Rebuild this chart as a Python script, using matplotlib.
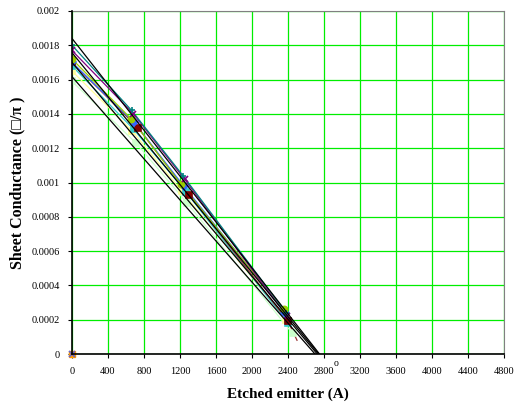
import matplotlib
matplotlib.use("Agg")
import matplotlib.pyplot as plt
import numpy as np

# ---- data ----
x_teal = [0, 663, 1233, 2380]
y_teal = [0.00180, 0.00142, 0.00104, 0.00024]
x_purple = [0, 683, 1250, 2390]
y_purple = [0.00177, 0.00140, 0.00102, 0.00022]
x_olive = [0, 660, 1210, 2350]
y_olive = [0.00172, 0.00137, 0.00099, 0.00026]
x_blue = [0, 690, 1240, 2370]
y_blue = [0.00170, 0.00135, 0.00098, 0.00024]
x_maroon = [0, 733, 1304, 2400, 2500]
y_maroon = [0.00170, 0.00132, 0.00093, 0.00019, 0.00008]
x_cyan = [0, 685, 1267, 2400]
y_cyan = [0.00168, 0.00131, 0.000945, 0.00018]
x_lyellow = [0, 670, 1220, 2380]
y_lyellow = [0.00165, 0.00130, 0.00095, 0.00020]
x_lgreen = [0, 711, 1280, 2450]
y_lgreen = [0.00159, 0.00123, 0.00088, 0.00012]
x_zero = [0]
y_zero = [0]

# linear trend lines: intercept at x=0 and x-intercept
trend_y0 = [0.00184, 0.001757, 0.00170, 0.001617]
trend_x0 = [2750, 2740, 2725, 2700]

x_ticks = [0, 400, 800, 1200, 1600, 2000, 2400, 2800, 3200, 3600, 4000, 4400, 4800]
y_ticks = [0, 0.0002, 0.0004, 0.0006, 0.0008, 0.001, 0.0012, 0.0014, 0.0016, 0.0018, 0.002]
y_tick_labels = ["0", "0.0002", "0.0004", "0.0006", "0.0008", "0.001", "0.0012",
                 "0.0014", "0.0016", "0.0018", "0.002"]

plt.rcParams['font.family'] = ['Liberation Serif', 'DejaVu Sans']

fig = plt.figure(figsize=(5.14, 4.04), dpi=100)
ax = fig.add_axes([72/514, 50/404, 432/514, 343/404])

series = [
    (x_lgreen, y_lgreen, '#CCFFCC', 's', '#CCFFCC'),
    (x_lyellow, y_lyellow, '#FFFF99', 's', '#FFFF99'),
    (x_cyan, y_cyan, '#33CCCC', 's', '#33CCCC'),
    (x_maroon, y_maroon, '#993333', 's', '#800000'),
    (x_blue, y_blue, '#3366FF', 'D', '#3366FF'),
    (x_olive, y_olive, '#99CC00', 'o', '#99CC00'),
    (x_purple, y_purple, '#800080', 'x', '#800080'),
    (x_teal, y_teal, '#008080', '+', '#008080'),
]
for xs, ys, lc, m, mc in series:
    ax.plot(xs[:4], ys[:4], color=lc, lw=0.9, zorder=3)
    if len(xs) > 4:
        ax.plot(xs[3:], ys[3:], color=lc, lw=0.9, zorder=3)
    ax.plot(xs[:4], ys[:4], ls='none', marker=m, ms=4.5, color=mc,
            mec=mc, mew=1.2, zorder=4)

ax.plot(x_zero, y_zero, ls='none', marker='s', ms=4, mfc='#FF9900', mec='#FF9900', zorder=5, clip_on=False)
ax.plot(x_zero, y_zero, ls='none', marker='x', ms=4, color='#6666CC', mew=1.2, zorder=6, clip_on=False)

for y0, xz in zip(trend_y0, trend_x0):
    ax.plot([0, xz], [y0, 0], color='black', lw=0.9, zorder=5)

ax.set_xlim(0, 4800)
ax.set_ylim(0, 0.002)
ax.set_xticks(x_ticks)
ax.set_xticklabels([str(v) for v in x_ticks])
ax.set_yticks(y_ticks)
ax.set_yticklabels(y_tick_labels)
ax.grid(True, color='#00EE00', lw=0.9, zorder=0)
ax.set_axisbelow(True)
ax.tick_params(axis='both', labelsize=7.5, length=3, width=0.8, direction='out', colors='black')
ax.tick_params(axis='x', pad=6)
ax.tick_params(axis='y', pad=6)
for s in ['left', 'bottom']:
    ax.spines[s].set_color('black')
    ax.spines[s].set_linewidth(1.2)
    ax.spines[s].set_zorder(7)
for s in ['top', 'right']:
    ax.spines[s].set_color('#808080')
    ax.spines[s].set_linewidth(0.8)

ax.set_xlabel('Etched emitter (A)', fontsize=11, fontweight='bold', labelpad=9)
ax.set_ylabel('Sheet Conductance (\u25A1/\u03C0 )', fontsize=11.5, fontweight='bold', labelpad=4)
fig.text(336/514, 1 - 364/404, 'o', fontsize=7, ha='center', va='center')

fig.savefig('out.png', dpi=100)
